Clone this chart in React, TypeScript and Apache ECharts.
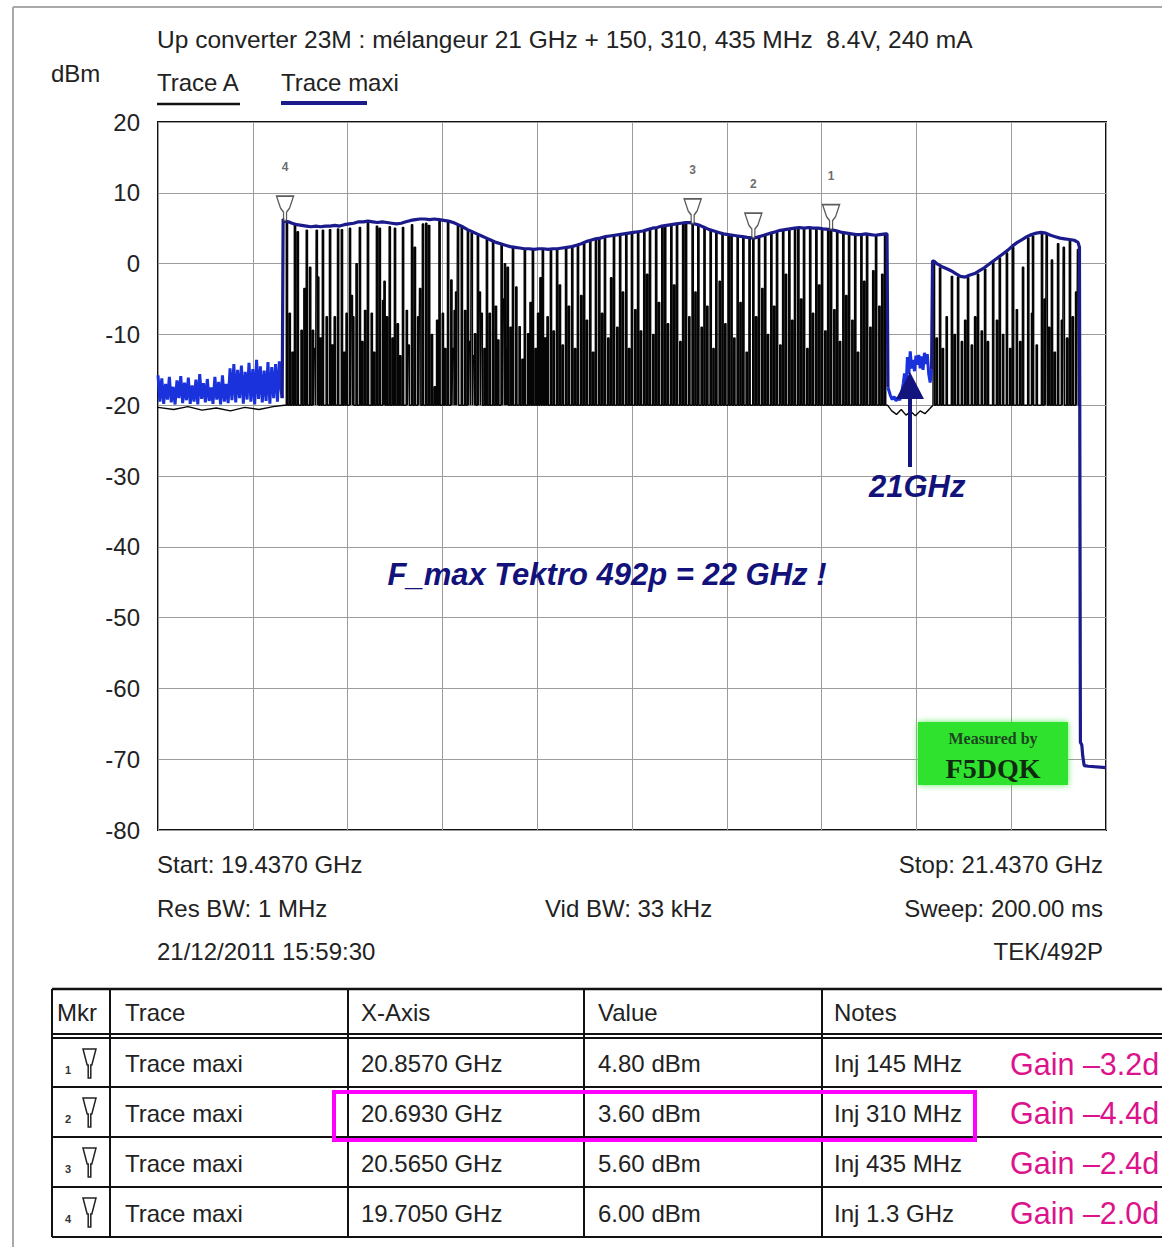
import React, { useEffect, useRef } from "react";
import * as echarts from "echarts";

// ---------------- DATA ----------------
const xMin = 19.437; // GHz
const xMax = 21.437; // GHz
const yMin = -80;
const yMax = 20;
const yStep = 10;

const titleText = "Up converter 23M : mélangeur 21 GHz + 150, 310, 435 MHz  8.4V, 240 mA";
const legendNames = ["Trace A", "Trace maxi"];
const resBw = "1 MHz";
const vidBw = "33 kHz";
const sweepTime = "200.00 ms";
const stampText = "21/12/2011 15:59:30";
const instrument = "TEK/492P";

// Trace A floor level (dBm)
const traceAFloor = -20;
const traceALeftFloor: number[][] = [
  [19.437, -20.3], [19.47, -20.6], [19.5, -20.2], [19.53, -20.7], [19.56, -20.4],
  [19.59, -20.8], [19.62, -20.3], [19.65, -20.6], [19.68, -20.2], [19.703, -20.0],
];
const traceAGapFloor: number[][] = [
  [20.976, -20.0], [20.985, -20.8], [20.995, -21.3], [21.005, -20.6], [21.015, -21.4],
  [21.025, -20.9], [21.035, -21.5], [21.045, -20.8], [21.055, -21.2], [21.065, -20.5], [21.072, -20.0],
];
// Trace A spikes: [GHz, peak dBm]
const traceASpikesBand1: number[][] = [
  [19.709, 6.0], [19.715, -7.0], [19.721, -12.5], [19.726, 5.6], [19.732, 4.5], [19.740, -9.4], [19.746, -3.5],
  [19.751, 4.7], [19.758, -0.5], [19.764, -9.4], [19.768, -12.0], [19.772, 4.7], [19.775, -1.9], [19.780, -10.5],
  [19.785, 4.7], [19.793, -7.5], [19.800, 4.8], [19.805, -11.5], [19.810, -7.5], [19.817, 4.9], [19.825, 4.8],
  [19.830, -12.5], [19.835, -7.0], [19.842, 5.0], [19.846, -4.5], [19.849, -7.5], [19.856, 0.0], [19.863, 5.1],
  [19.868, -11.0], [19.874, -6.6], [19.880, 5.7], [19.888, -7.0], [19.893, -12.5], [19.899, 5.3], [19.905, 5.0],
  [19.912, -5.2], [19.915, -2.5], [19.920, -7.5], [19.926, 5.2], [19.932, -10.5], [19.937, 5.0], [19.943, -8.5],
  [19.948, -13.0], [19.954, 5.1], [19.962, -6.6], [19.966, -11.5], [19.973, 5.5], [19.979, 2.3], [19.986, -7.5],
  [19.990, -3.5], [19.996, 5.6], [20.003, 5.7], [20.009, 5.4], [20.015, -10.0], [20.021, -17.4], [20.026, -8.0],
  [20.031, 6.1], [20.038, -7.0], [20.043, -12.0], [20.049, 6.0], [20.056, -2.3], [20.060, -12.0], [20.063, -6.6],
  [20.066, -4.0], [20.070, 5.4], [20.078, 5.2], [20.085, -6.6], [20.091, 4.7], [20.095, -11.0], [20.099, 4.3],
  [20.103, -13.0], [20.106, -9.9], [20.112, 4.0], [20.116, -4.0], [20.120, -7.0], [20.126, -12.0], [20.131, 3.6],
  [20.137, -7.0], [20.144, 3.2], [20.150, -6.0], [20.155, -10.8], [20.162, 2.8], [20.166, -5.0], [20.169, 0.0],
  [20.172, -12.0], [20.175, -0.5], [20.181, -9.0], [20.186, 2.3], [20.193, -3.3], [20.200, -8.9], [20.206, -13.5],
  [20.211, 2.1], [20.218, -9.9], [20.223, -5.5], [20.228, 2.0], [20.234, -12.0], [20.239, -7.0], [20.244, -2.0],
  [20.249, 2.0], [20.254, -10.5], [20.259, -7.5],
  [20.266, 2.0], [20.272, -9.5], [20.279, 2.0], [20.285, -3.0], [20.291, -11.5], [20.298, 2.1], [20.304, -6.0],
  [20.311, 2.3], [20.317, -12.0], [20.323, 2.5], [20.330, -4.5], [20.336, 3.0], [20.342, -8.0], [20.349, 3.3],
  [20.355, -12.5], [20.361, 3.4], [20.368, 3.5], [20.374, -7.0], [20.380, 3.7], [20.387, -10.5], [20.393, -2.0],
  [20.399, 3.9], [20.406, -9.0], [20.412, 4.0], [20.418, -4.0], [20.425, 4.1], [20.431, -12.0], [20.437, 4.3],
  [20.444, -6.5], [20.450, 4.4], [20.456, -9.5], [20.463, 4.5], [20.469, -1.5], [20.475, 4.8], [20.482, -10.0],
  [20.488, 5.0], [20.494, -5.5], [20.501, 5.2], [20.507, 5.3], [20.513, -8.5], [20.520, 5.4], [20.526, -3.0],
  [20.532, 5.5], [20.539, -11.0], [20.545, 5.6], [20.551, 5.6], [20.558, -7.5], [20.565, 5.6], [20.571, -4.0],
  [20.577, 5.4], [20.584, -9.0], [20.590, 5.0], [20.596, -6.0], [20.603, 4.7], [20.609, -12.0], [20.615, 4.4],
  [20.622, -2.5], [20.628, 4.2], [20.634, -8.5], [20.641, 4.0], [20.647, 3.9], [20.653, -10.5], [20.660, 3.8],
  [20.666, -5.5], [20.672, 3.7], [20.679, -12.5], [20.685, 3.6], [20.693, 3.6], [20.699, -7.5], [20.705, 3.7],
  [20.712, -3.5], [20.718, 4.0], [20.724, -10.0], [20.731, 4.2], [20.737, -6.0], [20.743, 4.4], [20.750, -11.5],
  [20.756, 4.6], [20.762, -1.5], [20.769, 4.8], [20.775, -8.0], [20.781, 4.9], [20.788, 5.0], [20.794, -5.0],
  [20.800, 4.9], [20.807, -12.0], [20.813, 5.0], [20.819, -7.0], [20.826, 4.9], [20.832, -3.0], [20.838, 4.8],
  [20.845, -9.5], [20.851, 4.7], [20.857, 4.8], [20.864, -6.5], [20.870, 4.5], [20.876, -11.0], [20.883, 4.3],
  [20.889, -4.5], [20.895, 4.2], [20.902, -8.0], [20.908, 4.1], [20.914, -12.5], [20.921, 4.0], [20.927, -2.5],
  [20.933, 4.0], [20.940, -9.0], [20.946, -1.0], [20.952, 4.0], [20.959, -6.0], [20.965, -1.5], [20.971, 4.1],
];
const traceASpikesBand2: number[][] = [
  [21.074, 0.3], [21.080, -10.5], [21.087, -0.6], [21.093, -12.0], [21.101, -7.5], [21.112, -1.8], [21.118, -10.0],
  [21.125, -1.9], [21.133, -11.0], [21.140, -8.0], [21.146, -2.0], [21.154, -11.5], [21.161, -7.5], [21.167, -1.5],
  [21.175, -9.5], [21.182, -0.8], [21.188, -11.0], [21.199, 0.2], [21.207, -8.0], [21.213, 0.8], [21.220, -10.0],
  [21.228, 1.5], [21.235, -12.0], [21.241, 2.3], [21.249, -6.5], [21.256, -11.0], [21.262, -0.5], [21.273, 3.6],
  [21.281, -7.0], [21.283, 3.9], [21.291, -11.5], [21.302, 4.3], [21.308, -5.0], [21.312, 4.2], [21.317, -9.0],
  [21.323, 0.5], [21.329, -12.5], [21.336, 2.8], [21.344, -8.0], [21.348, 2.3], [21.355, -10.5], [21.361, 3.2],
  [21.367, -7.5], [21.374, -4.0], [21.378, 2.0],
];

// Trace maxi (max hold): [GHz, dBm]
const traceMaxiLeftNoise: number[][] = [
  [19.437, -15.8], [19.441, -19.5], [19.445, -16.2], [19.449, -19.8], [19.453, -17.0], [19.457, -19.2],
  [19.461, -16.0], [19.465, -19.6], [19.469, -17.4], [19.473, -19.9], [19.477, -16.5], [19.481, -19.0],
  [19.485, -15.9], [19.489, -19.7], [19.493, -16.8], [19.497, -19.3], [19.501, -16.1], [19.505, -19.8],
  [19.509, -17.2], [19.513, -19.5], [19.517, -16.4], [19.521, -19.9], [19.525, -15.6], [19.529, -19.1],
  [19.533, -16.9], [19.537, -19.6], [19.541, -16.3], [19.545, -19.4], [19.549, -17.5], [19.553, -19.8],
  [19.557, -16.0], [19.561, -19.2], [19.565, -16.7], [19.569, -19.9], [19.573, -15.8], [19.577, -19.5],
  [19.581, -17.0], [19.585, -19.7], [19.589, -14.8], [19.593, -19.3], [19.597, -14.2], [19.601, -19.6],
  [19.605, -15.0], [19.609, -19.0], [19.613, -14.4], [19.617, -19.8], [19.621, -15.3], [19.625, -19.2],
  [19.629, -14.0], [19.633, -19.5], [19.637, -14.9], [19.641, -19.9], [19.645, -13.6], [19.649, -19.1],
  [19.653, -14.5], [19.657, -19.6], [19.661, -15.1], [19.665, -19.4], [19.669, -13.9], [19.673, -19.8],
  [19.677, -14.6], [19.681, -19.0], [19.685, -14.2], [19.689, -19.5], [19.693, -13.8], [19.697, -18.0],
  [19.699, -19.0],
];
const traceMaxiBand1: number[][] = [
  [19.699, -19.0], [19.701, 6.3], [19.705, 6.0], [19.712, 5.9], [19.72, 5.7], [19.73, 5.5], [19.74, 5.4],
  [19.75, 5.3], [19.76, 5.2], [19.77, 5.3], [19.78, 5.2], [19.79, 5.3], [19.80, 5.3], [19.81, 5.4], [19.82, 5.3],
  [19.83, 5.5], [19.84, 5.6], [19.85, 5.7], [19.86, 5.9], [19.87, 5.9], [19.88, 6.0], [19.89, 5.9], [19.90, 5.8],
  [19.91, 5.9], [19.92, 5.8], [19.93, 5.7], [19.94, 5.6], [19.95, 5.7], [19.96, 5.9], [19.97, 6.1], [19.98, 6.2],
  [19.99, 6.3], [20.00, 6.3], [20.01, 6.2], [20.02, 6.3], [20.03, 6.2], [20.04, 6.1], [20.05, 6.0], [20.06, 5.8],
  [20.07, 5.5], [20.08, 5.2], [20.09, 4.8], [20.10, 4.5], [20.11, 4.2], [20.12, 3.9], [20.13, 3.6], [20.14, 3.3],
  [20.15, 3.0], [20.16, 2.8], [20.17, 2.6], [20.18, 2.4], [20.19, 2.3], [20.20, 2.2], [20.21, 2.1], [20.22, 2.1],
  [20.23, 2.0], [20.24, 2.1], [20.25, 2.1], [20.26, 2.0], [20.27, 2.1], [20.28, 2.1], [20.29, 2.2], [20.30, 2.3],
  [20.31, 2.4], [20.32, 2.6], [20.33, 2.8], [20.34, 3.1], [20.35, 3.3], [20.36, 3.5], [20.37, 3.6], [20.38, 3.8],
  [20.39, 3.9], [20.40, 4.0], [20.41, 4.1], [20.42, 4.2], [20.43, 4.3], [20.44, 4.4], [20.45, 4.5], [20.46, 4.6],
  [20.47, 4.8], [20.48, 5.0], [20.49, 5.1], [20.50, 5.3], [20.51, 5.4], [20.52, 5.5], [20.53, 5.6], [20.54, 5.7],
  [20.55, 5.8], [20.56, 5.8], [20.565, 5.7], [20.57, 5.6], [20.58, 5.4], [20.59, 5.1], [20.60, 4.8], [20.61, 4.6],
  [20.62, 4.4], [20.63, 4.2], [20.64, 4.1], [20.65, 4.0], [20.66, 3.9], [20.67, 3.8], [20.68, 3.7], [20.693, 3.6],
  [20.70, 3.7], [20.71, 3.9], [20.72, 4.1], [20.73, 4.3], [20.74, 4.5], [20.75, 4.7], [20.76, 4.8], [20.77, 4.9],
  [20.78, 5.0], [20.79, 5.1], [20.80, 5.0], [20.81, 5.1], [20.82, 5.0], [20.83, 5.0], [20.84, 4.9], [20.857, 4.8],
  [20.87, 4.6], [20.88, 4.4], [20.89, 4.3], [20.90, 4.2], [20.91, 4.1], [20.92, 4.1], [20.93, 4.2], [20.94, 4.1],
  [20.95, 4.0], [20.96, 4.1], [20.972, 4.2], [20.975, 4.2], [20.977, -17.5],
];
const traceMaxiGapNoise: number[][] = [
  [20.977, -17.5], [20.982, -18.6], [20.986, -19.2], [20.990, -18.8], [20.994, -19.4], [20.998, -18.9],
  [21.002, -19.3], [21.006, -18.2], [21.009, -17.0], [21.012, -15.5], [21.015, -17.8], [21.018, -13.2],
  [21.021, -15.6], [21.024, -12.4], [21.027, -14.8], [21.030, -13.6], [21.033, -15.2], [21.036, -13.0],
  [21.039, -14.3], [21.042, -12.9], [21.045, -14.8], [21.048, -13.1], [21.051, -15.0], [21.054, -12.6],
  [21.057, -14.2], [21.060, -12.8], [21.063, -15.6], [21.066, -16.8], [21.069, -15.0],
];
const traceMaxiBand2: number[][] = [
  [21.069, -15.0], [21.071, 0.4], [21.075, 0.3], [21.08, 0.0], [21.09, -0.4], [21.10, -0.7], [21.11, -1.0],
  [21.12, -1.4], [21.13, -1.8], [21.14, -1.9], [21.15, -1.6], [21.16, -1.4], [21.17, -1.0], [21.18, -0.6],
  [21.19, -0.1], [21.20, 0.4], [21.21, 0.9], [21.22, 1.4], [21.23, 1.9], [21.24, 2.5], [21.25, 3.0], [21.26, 3.4],
  [21.27, 3.8], [21.28, 4.1], [21.29, 4.3], [21.30, 4.4], [21.31, 4.3], [21.32, 4.0], [21.33, 3.8], [21.34, 3.6],
  [21.35, 3.5], [21.36, 3.4], [21.37, 3.3], [21.378, 3.0], [21.381, 2.3], [21.383, -67.6], [21.386, -68.0],
  [21.388, -69.6], [21.391, -70.9], [21.40, -71.0], [21.437, -71.2],
];

// Markers (table)
const markerIds = [1, 2, 3, 4];
const markerFreqs = [20.857, 20.693, 20.565, 19.705]; // GHz
const markerLevels = [4.8, 3.6, 5.6, 6.0]; // dBm
const markerNotes = ["Inj 145 MHz", "Inj 310 MHz", "Inj 435 MHz", "Inj 1.3 GHz"];
const markerGains = ["Gain –3.2d", "Gain –4.4d", "Gain –2.4d", "Gain –2.0d"];
const highlightedRow = 1; // index of the marker row that is boxed
const tableHeaders = ["Mkr", "Trace", "X-Axis", "Value", "Notes"];

const annotation21 = "21GHz";
const annotationFmax = "F_max Tektro 492p = 22 GHz !";
const stampLines = ["Measured by", "F5DQK"];

// ---------------- HELPERS ----------------
const FONT = '"Liberation Sans", Arial, sans-serif';
const NAVY = "#1b1b8c";
const BRIGHT = "#1a32dc";
const TXT = "#222222";

function buildTraceA(): number[][] {
  const hw = 0.0014;
  const pts: number[][] = [];
  traceALeftFloor.forEach((p) => pts.push(p));
  const addSpikes = (arr: number[][]) => {
    arr.forEach(([f, peak]) => {
      pts.push([f - hw, traceAFloor], [f - hw, peak], [f + hw, peak], [f + hw, traceAFloor]);
    });
  };
  addSpikes(traceASpikesBand1);
  traceAGapFloor.forEach((p) => pts.push(p));
  addSpikes(traceASpikesBand2);
  pts.push([21.381, traceAFloor]);
  return pts;
}

function txt(text: string, x: number, y: number, size: number, opts: any = {}) {
  const align = opts.align || "left";
  return {
    type: "text",
    x,
    y,
    silent: true,
    z: 10,
    style: {
      text,
      font: `${opts.weight || "normal"} ${opts.italic ? "italic" : ""} ${size}px ${opts.family || FONT}`.replace(/\s+/g, " "),
      fill: opts.color || TXT,
      align,
      verticalAlign: "middle",
      textAlign: align,
      textVerticalAlign: "middle",
    },
  };
}

function hline(x1: number, x2: number, y: number, w = 2, color = "#111") {
  return { type: "line", silent: true, z: 10, shape: { x1, y1: y, x2, y2: y }, style: { stroke: color, lineWidth: w } };
}
function vline(x: number, y1: number, y2: number, w = 2, color = "#111") {
  return { type: "line", silent: true, z: 10, shape: { x1: x, y1, x2: x, y2 }, style: { stroke: color, lineWidth: w } };
}

function funnel(x: number, y: number, w: number, h: number) {
  const neck = h * 0.55;
  return {
    type: "polygon",
    silent: true,
    z: 11,
    shape: {
      points: [
        [x, y], [x + w, y], [x + w * 0.68, y + neck], [x + w * 0.6, y + neck],
        [x + w * 0.6, y + h], [x + w * 0.4, y + h], [x + w * 0.4, y + neck], [x + w * 0.32, y + neck],
      ],
    },
    style: { fill: "#fff", stroke: "#222", lineWidth: 1.5 },
  };
}

function buildGraphics(): any[] {
  const g: any[] = [];
  // outer frame
  g.push(hline(13, 1162, 7, 2, "#a9a9a9"));
  g.push(vline(13, 7, 1247, 2, "#a9a9a9"));
  // title & legend
  g.push(txt(titleText, 157, 39, 24.5));
  g.push(txt("dBm", 51, 73, 24));
  g.push(txt(legendNames[0], 157, 82, 24));
  g.push(hline(157, 240, 104, 2.5, "#111"));
  g.push(txt(legendNames[1], 281, 82, 24));
  g.push(hline(281, 367, 103, 4, NAVY));
  // footer texts
  g.push(txt(`Start: ${xMin.toFixed(4)} GHz`, 157, 864, 24));
  g.push(txt(`Stop: ${xMax.toFixed(4)} GHz`, 1103, 864, 24, { align: "right" }));
  g.push(txt(`Res BW: ${resBw}`, 157, 908, 24));
  g.push(txt(`Vid BW: ${vidBw}`, 545, 908, 24));
  g.push(txt(`Sweep: ${sweepTime}`, 1103, 908, 24, { align: "right" }));
  g.push(txt(stampText, 157, 951, 24));
  g.push(txt(instrument, 1103, 951, 24, { align: "right" }));

  // annotations
  g.push(txt(annotation21, 869, 486, 31, { weight: "bold", italic: true, color: "#12127a" }));
  g.push(vline(910, 467, 392, 4, "#14147e"));
  g.push({
    type: "polygon", silent: true, z: 12,
    shape: { points: [[910, 372], [896, 399], [924, 399]] },
    style: { fill: "#14147e" },
  });
  g.push(txt(annotationFmax, 607, 574, 31, { weight: "bold", italic: true, color: "#12127a", align: "center" }));

  // green stamp
  g.push({
    type: "rect", silent: true, z: 9,
    shape: { x: 918, y: 722, width: 150, height: 63 },
    style: { fill: "#2fe22f", shadowColor: "rgba(60,230,60,0.8)", shadowBlur: 6 },
  });
  g.push(txt(stampLines[0], 993, 738, 16, { family: '"Liberation Serif", "DejaVu Serif", serif', color: "#1f451f", align: "center", weight: "bold" }));
  g.push(txt(stampLines[1], 993, 768, 28, { family: '"Liberation Serif", "DejaVu Serif", serif', weight: "bold", color: "#102a10", align: "center" }));

  // table
  const colX = [52, 110, 348, 584, 822];
  const top = 989;
  const rowY = [1038, 1087, 1137, 1187, 1237];
  const right = 1162;
  g.push(hline(52, right, top, 2.5));
  g.push(hline(52, right, 1034, 2));
  g.push(hline(52, right, 1038, 2));
  for (let i = 1; i < rowY.length; i++) g.push(hline(52, right, rowY[i], 2));
  colX.forEach((x) => g.push(vline(x, top, 1237, 2)));
  const textX = [57, 125, 361, 598, 834];
  tableHeaders.forEach((h, i) => g.push(txt(h, textX[i], 1012, 24)));
  markerIds.forEach((id, r) => {
    const y0 = rowY[r];
    const yc = (rowY[r] + rowY[r + 1]) / 2 + 1;
    g.push(txt(String(id), 65, yc + 6, 11, { color: "#333", weight: "bold" }));
    g.push(funnel(83, y0 + 11, 13, 29));
    g.push(txt("Trace maxi", textX[1], yc, 24));
    g.push(txt(`${markerFreqs[r].toFixed(4)} GHz`, textX[2], yc, 24));
    g.push(txt(`${markerLevels[r].toFixed(2)} dBm`, textX[3], yc, 24));
    g.push(txt(markerNotes[r], textX[4], yc, 24));
    g.push(txt(markerGains[r], 1010, yc, 30.5, { color: "#dc138c" }));
  });
  // highlight box
  const hr = highlightedRow;
  g.push({
    type: "rect", silent: true, z: 13,
    shape: { x: 334, y: rowY[hr] + 5, width: 641, height: rowY[hr + 1] - rowY[hr] - 2 },
    style: { fill: "none", stroke: "#ff00ff", lineWidth: 4 },
  });
  return g;
}

const MARKER_PATH = "path://M0,0 L17,0 L13,12 L10,16 L10,25 L7,25 L7,16 L4,12 Z";

export default function App() {
  const ref = useRef<HTMLDivElement>(null);
  useEffect(() => {
    if (!ref.current) return;
    const chart = echarts.init(ref.current, null, { renderer: "svg" });
    const lineBase = { type: "line", showSymbol: false, symbol: "none", silent: true, animation: false };
    chart.setOption({
      animation: false,
      backgroundColor: "#ffffff",
      grid: { left: 158, top: 122, width: 948, height: 708, show: true, borderColor: "#111", borderWidth: 2, backgroundColor: "transparent" },
      xAxis: [
        {
          type: "value", min: xMin, max: xMax,
          axisLine: { show: false }, axisTick: { show: false }, axisLabel: { show: false }, splitLine: { show: false },
        },
        {
          type: "value", min: 0, max: 10, interval: 1, position: "bottom",
          axisLine: { show: false }, axisTick: { show: false }, axisLabel: { show: false },
          splitLine: { show: true, lineStyle: { color: "#9c9c9c", width: 1 } },
        },
      ],
      yAxis: {
        type: "value", min: yMin, max: yMax, interval: yStep,
        axisLine: { show: false }, axisTick: { show: false },
        axisLabel: { show: true, color: TXT, fontSize: 24, fontFamily: FONT, margin: 18 },
        splitLine: { show: true, lineStyle: { color: "#9c9c9c", width: 1 } },
      },
      series: [
        { ...lineBase, name: legendNames[0], data: buildTraceA(), lineStyle: { color: "#050505", width: 1.4 }, z: 2 },
        { ...lineBase, name: "noise-left", data: traceMaxiLeftNoise, lineStyle: { color: BRIGHT, width: 3 }, z: 3 },
        { ...lineBase, name: "noise-gap", data: traceMaxiGapNoise, lineStyle: { color: BRIGHT, width: 3 }, z: 3 },
        { ...lineBase, name: legendNames[1], data: traceMaxiBand1, lineStyle: { color: NAVY, width: 3.2 }, z: 4 },
        { ...lineBase, name: legendNames[1] + " 2", data: traceMaxiBand2, lineStyle: { color: NAVY, width: 3.2 }, z: 4 },
        {
          type: "scatter", name: "markers", silent: true, z: 6,
          data: markerFreqs.map((f, i) => [f, markerLevels[i]]),
          symbol: MARKER_PATH, symbolSize: [17, 25], symbolOffset: [0, "-50%"],
          itemStyle: { color: "#ffffff", borderColor: "#333", borderWidth: 1.5 },
          label: {
            show: true, position: "top", distance: 22,
            formatter: (p: any) => String(markerIds[p.dataIndex]),
            fontSize: 12, fontWeight: "bold", color: "#444", fontFamily: FONT,
          },
        },
      ],
      graphic: { elements: buildGraphics() },
    });
    return () => chart.dispose();
  }, []);
  return (
    <div
      ref={ref}
      style={{ position: "fixed", left: 0, top: 0, width: 1162, height: 1247, background: "#fff" }}
    />
  );
}
